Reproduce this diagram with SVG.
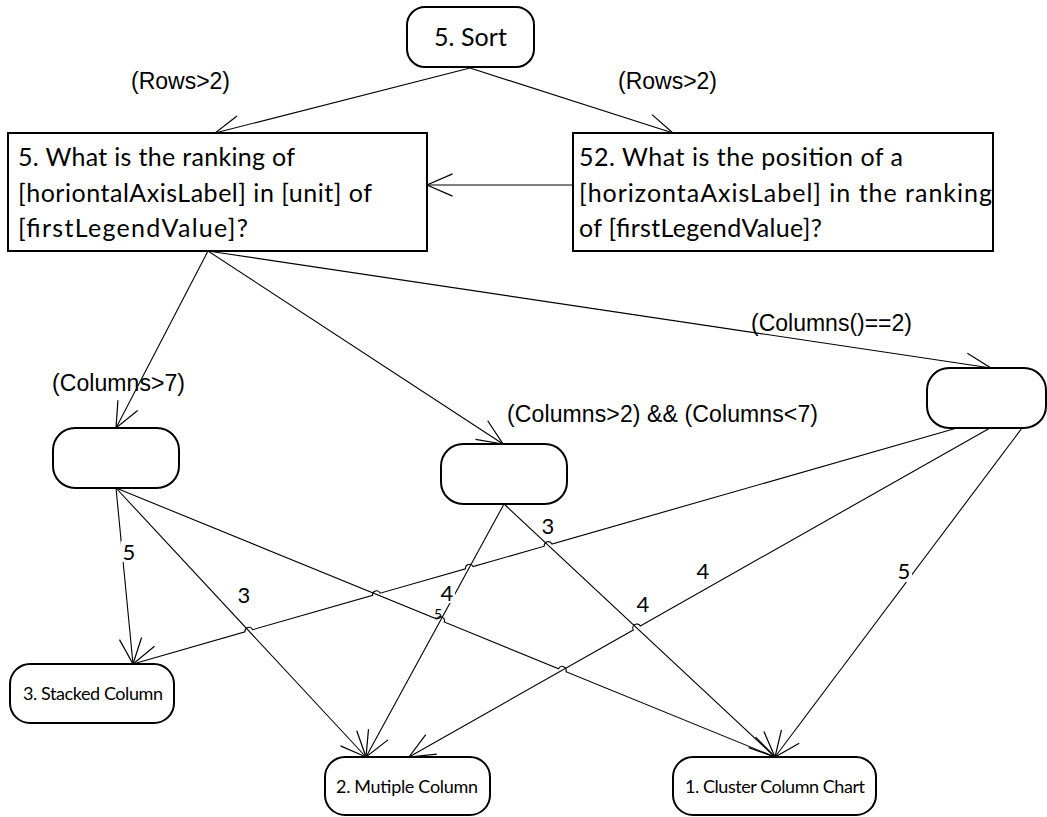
<svg xmlns="http://www.w3.org/2000/svg" width="1047" height="817" viewBox="0 0 1047 817">
<style>
.box{fill:#fff;stroke:#000;stroke-width:2}
.edge{fill:none;stroke:#000;stroke-width:1.1}
.arr{marker-end:url(#v)}
.bt{font-family:Lato,"Open Sans","Liberation Sans",sans-serif;fill:#000}
.lb{font-family:"Liberation Sans",Arial,sans-serif;font-size:23px;fill:#000}
.num{font-family:Lato,"Open Sans","Liberation Sans",sans-serif;font-size:22px;fill:#000;text-anchor:middle}
</style>
<defs>
<marker id="v" markerUnits="userSpaceOnUse" markerWidth="30" markerHeight="30" viewBox="-25 -12 27 24" refX="0" refY="0" orient="auto" overflow="visible">
<path d="M-23,-10 L0,0 L-23,10" fill="none" stroke="#000" stroke-width="1.1"/>
</marker>
</defs>

<g id="connectors">
<path class="edge arr" d="M470,68 L215,133"/>
<path class="edge arr" d="M470,68 L673,133"/>
<path class="edge arr" d="M573,185 L427,185"/>
<path class="edge arr" d="M208,251 L116,428"/>
<path class="edge arr" d="M208,251 L503,444"/>
<path class="edge arr" d="M208,251 L991,368"/>
<path class="edge arr" d="M116,488 L133,664"/>
<path class="edge arr" d="M116,488 L366,757"/>
<path class="edge arr" d="M116,488 L436.8,619.0 A4,4 0 0 1 444.2,622.0 L558.6,668.7 A4,4 0 0 1 566.0,671.7 L775,757"/>
<path class="edge arr" d="M504,504 L366,757"/>
<path class="edge arr" d="M504,504 L775,757"/>
<path class="edge arr" d="M957,428 L551.9,544.0 A4,4 0 0 0 544.3,546.2 L473.1,566.6 A4,4 0 0 0 465.5,568.8 L380.2,593.2 A4,4 0 0 0 372.6,595.4 L252.6,629.7 A4,4 0 0 0 245.0,631.9 L133,664"/>
<path class="edge arr" d="M990,428 L640.3,626.0 A4,4 0 0 0 633.3,630.0 L409,757"/>
<path class="edge arr" d="M1022,428 L775,757"/>
</g>

<g id="edge-labels">
<text class="lb" x="131" y="89" textLength="99">(Rows&gt;2)</text>
<text class="lb" x="618" y="89" textLength="99">(Rows&gt;2)</text>
<text class="lb" x="52" y="391" textLength="133">(Columns&gt;7)</text>
<text class="lb" x="507" y="422" textLength="311">(Columns&gt;2) &amp;&amp; (Columns&lt;7)</text>
<text class="lb" x="751" y="331" textLength="161">(Columns()==2)</text>
<rect x="121" y="541" width="16" height="21" fill="#fff"/>
<text class="num" x="129" y="560">5</text>
<text class="num" x="244" y="603">3</text>
<rect x="439" y="583" width="16" height="20" fill="#fff"/>
<text class="num" x="447" y="601">4</text>
<text class="num" x="438" y="619" style="font-size:14px">5</text>
<text class="num" x="548" y="534">3</text>
<text class="num" x="703" y="579">4</text>
<text class="num" x="643" y="612">4</text>
<rect x="896" y="560" width="16" height="22" fill="#fff"/>
<text class="num" x="904" y="579">5</text>
</g>

<g id="sort">
<rect class="box" x="407" y="7" width="127" height="60" rx="18"/>
<text class="bt" x="434" y="46" font-size="25" textLength="73">5. Sort</text>
</g>
<g id="q5">
<rect class="box" x="8" y="133" width="419" height="118"/>
<text class="bt" font-size="25"><tspan x="18" y="166" textLength="277">5. What is the ranking of</tspan><tspan x="18" y="201.5" textLength="354">[horiontalAxisLabel] in [unit] of</tspan><tspan x="18" y="237" textLength="230">[firstLegendValue]?</tspan></text>
</g>
<g id="q52">
<rect class="box" x="573" y="133" width="420" height="118"/>
<text class="bt" font-size="25"><tspan x="579" y="166" textLength="324">52. What is the position of a</tspan><tspan x="579" y="201.5" textLength="413">[horizontaAxisLabel] in the ranking</tspan><tspan x="579" y="237" textLength="243">of [firstLegendValue]?</tspan></text>
</g>
<g id="nodeA">
<rect class="box" x="53" y="428" width="126" height="60" rx="22"/>
</g>
<g id="nodeB">
<rect class="box" x="441" y="444" width="126" height="60" rx="22"/>
</g>
<g id="nodeC">
<rect class="box" x="927" y="368" width="119" height="60" rx="22"/>
</g>
<g id="stacked">
<rect class="box" x="10" y="664" width="164" height="59" rx="20"/>
<text class="bt" x="23" y="700" font-size="18" textLength="140">3. Stacked Column</text>
</g>
<g id="multiple">
<rect class="box" x="325" y="757" width="165" height="58" rx="20"/>
<text class="bt" x="336" y="793" font-size="18" textLength="142">2. Mutiple Column</text>
</g>
<g id="cluster">
<rect class="box" x="673" y="757" width="203" height="58" rx="20"/>
<text class="bt" x="685" y="793" font-size="18" textLength="180">1. Cluster Column Chart</text>
</g>
</svg>
